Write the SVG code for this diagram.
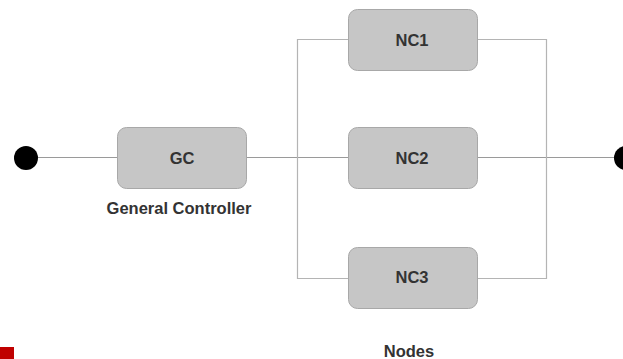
<svg xmlns="http://www.w3.org/2000/svg" width="623" height="359" viewBox="0 0 623 359">
<style>
.box{fill:#c6c6c6;stroke:#a8a8a8;stroke-width:1}
.lbl{font-family:"Liberation Sans",Arial,sans-serif;font-weight:bold;font-size:16.5px;fill:#333;text-anchor:middle}
.conn{stroke:#b4b4b4;stroke-width:1.2;fill:none}
</style>
<rect width="623" height="359" fill="#fff"/>
<g id="connectors">
<line class="conn" x1="26" y1="157.5" x2="117" y2="157.5" style="stroke:#9a9a9a"/>
<line class="conn" x1="247" y1="157.5" x2="348" y2="157.5" style="stroke:#9a9a9a"/>
<line class="conn" x1="478" y1="157.5" x2="625" y2="157.5" style="stroke:#9a9a9a"/>
<polyline class="conn" points="348,39.5 297.5,39.5 297.5,278.5 348,278.5"/>
<polyline class="conn" points="478,39.5 546.5,39.5 546.5,278.5 478,278.5"/>
</g>
<g id="start"><circle cx="26" cy="158" r="12" fill="#000"/></g>
<g id="end"><circle cx="626" cy="158" r="12" fill="#000"/></g>
<g id="GC">
<rect class="box" x="117.5" y="127.5" width="129" height="61" rx="9"/>
<text class="lbl" x="182" y="163.5">GC</text>
<text class="lbl" x="179" y="213.5">General Controller</text>
</g>
<g id="NC1">
<rect class="box" x="348.5" y="9.5" width="129" height="61" rx="9"/>
<text class="lbl" x="412" y="45.5">NC1</text>
</g>
<g id="NC2">
<rect class="box" x="348.5" y="127.5" width="129" height="61" rx="9"/>
<text class="lbl" x="412" y="163.5">NC2</text>
</g>
<g id="NC3">
<rect class="box" x="348.5" y="247.5" width="129" height="61" rx="9"/>
<text class="lbl" x="412" y="283">NC3</text>
</g>
<g id="nodes-label">
<text class="lbl" x="409" y="356.5">Nodes</text>
</g>
<rect x="0" y="347" width="14" height="12" fill="#c00000"/>
</svg>
